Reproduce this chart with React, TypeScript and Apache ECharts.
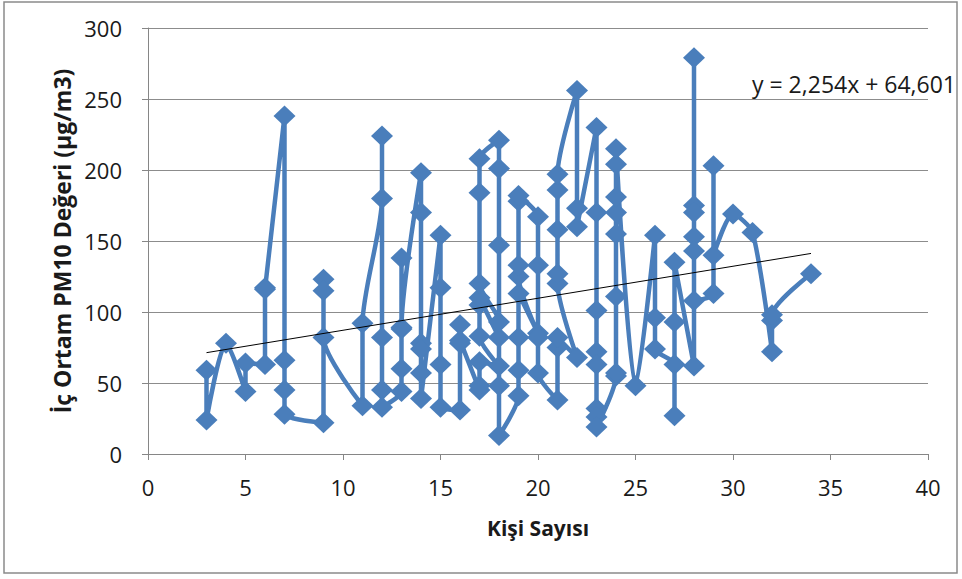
import React, { useEffect, useRef } from "react";
import * as echarts from "echarts";

const xValues: number[] = [
  3, 3,
  4,
  5, 5,
  6, 6, 6,
  7, 7, 7, 7,
  9, 9, 9, 9,
  11, 11,
  12, 12, 12, 12, 12,
  13, 13, 13, 13, 13,
  14, 14, 14, 14, 14, 14,
  15, 15, 15, 15,
  16, 16, 16, 16,
  17, 17, 17, 18, 17, 17, 17, 18, 18, 17, 17, 17,
  18, 18, 18, 18, 18,
  19, 19, 19, 19, 20, 19, 19, 19, 19,
  20, 20, 20, 20,
  21, 21, 21, 22, 21, 21, 21, 21, 21,
  22, 22, 22,
  23, 23, 23, 23, 23, 23, 23, 23,
  24, 24, 24, 24, 24, 24, 24, 24,
  25,
  26, 26, 26,
  27, 27, 27, 27,
  28, 28, 28, 28, 28, 28, 28,
  29, 29, 29,
  30,
  31,
  32, 32, 32,
  34,
];

const pm10Values: number[] = [
  59, 24,
  78,
  44, 64,
  63, 117, 116,
  238, 66, 45, 28,
  22, 123, 115, 82,
  34, 92,
  180, 224, 82, 45, 33,
  44, 60, 138, 88, 89,
  198, 170, 78, 74, 57, 39,
  154, 117, 63, 33,
  31, 91, 78, 80,
  45, 48, 65, 62, 83, 105, 110, 82, 93, 120, 184, 208,
  221, 201, 147, 48, 13,
  41, 59, 82, 113, 85, 125, 133, 178, 182,
  167, 133, 82, 57,
  38, 75, 82, 68, 120, 127, 158, 186, 197,
  256, 173, 160,
  230, 170, 101, 72, 63, 32, 26, 19,
  55, 57, 111, 155, 170, 181, 204, 215,
  48,
  154, 96, 74,
  63, 27, 93, 135,
  62, 279, 175, 170, 153, 143, 108,
  113, 203, 140,
  169,
  156,
  72, 94, 98,
  127,
];

const trendSlope = 2.254;
const trendIntercept = 64.601;
const trendRange: number[] = [3, 34];
const equationText = "y = 2,254x + 64,601";
const xAxisName = "Kişi Sayısı";
const yAxisName = "İç Ortam PM10 Değeri (µg/m3)";

export default function App() {
  const ref = useRef<HTMLDivElement>(null);
  useEffect(() => {
    if (!ref.current) return;
    const chart = echarts.init(ref.current, null, { renderer: "svg" });
    const data = xValues.map((x, i) => [x, pm10Values[i]]);
    const trend = trendRange.map((x) => [x, trendSlope * x + trendIntercept]);
    const font = "'Open Sans', 'Noto Sans', sans-serif";
    chart.setOption({
      animation: false,
      backgroundColor: "#ffffff",
      textStyle: { fontFamily: font },
      grid: { left: 148, right: 34, top: 28, bottom: 125 },
      xAxis: {
        type: "value",
        min: 0,
        max: 40,
        interval: 5,
        name: xAxisName,
        nameLocation: "middle",
        nameGap: 63,
        nameTextStyle: { fontSize: 21, fontWeight: "bold", color: "#1a1a1a", fontFamily: font },
        axisLine: { lineStyle: { color: "#868686", width: 1 } },
        axisTick: { show: true, length: 6, lineStyle: { color: "#868686" } },
        axisLabel: { fontSize: 22, color: "#1a1a1a", margin: 22, fontFamily: font },
        splitLine: { show: false },
      },
      yAxis: {
        type: "value",
        min: 0,
        max: 300,
        interval: 50,
        name: yAxisName,
        nameLocation: "middle",
        nameGap: 73,
        nameRotate: 90,
        nameTextStyle: { fontSize: 23, fontWeight: "bold", color: "#1a1a1a", fontFamily: font },
        axisLine: { show: true, lineStyle: { color: "#868686", width: 1 } },
        axisTick: { show: true, length: 6, lineStyle: { color: "#868686" } },
        axisLabel: { fontSize: 22, color: "#1a1a1a", margin: 26, fontFamily: font },
        splitLine: { show: true, lineStyle: { color: "#8c8c8c", width: 1 } },
      },
      graphic: [
        {
          type: "rect",
          shape: { x: 4, y: 2, width: 953, height: 571 },
          style: { fill: "none", stroke: "#8a8a8a", lineWidth: 1.5 },
          silent: true,
        },
        {
          type: "text",
          x: 752,
          y: 72,
          style: { text: equationText, fill: "#1a1a1a", font: `23px ${font}` },
          silent: true,
        },
      ],
      series: [
        {
          type: "line",
          data,
          smooth: 0.25,
          symbol: "diamond",
          symbolSize: [22, 21],
          lineStyle: { color: "#4a7ebb", width: 4.5 },
          itemStyle: { color: "#4a7ebb" },
          z: 2,
        },
        {
          type: "line",
          data: trend,
          symbol: "none",
          lineStyle: { color: "#000000", width: 1 },
          z: 3,
        },
      ],
    });
    return () => chart.dispose();
  }, []);
  return <div ref={ref} style={{ position: "fixed", left: 0, top: 0, width: 962, height: 579 }} />;
}
